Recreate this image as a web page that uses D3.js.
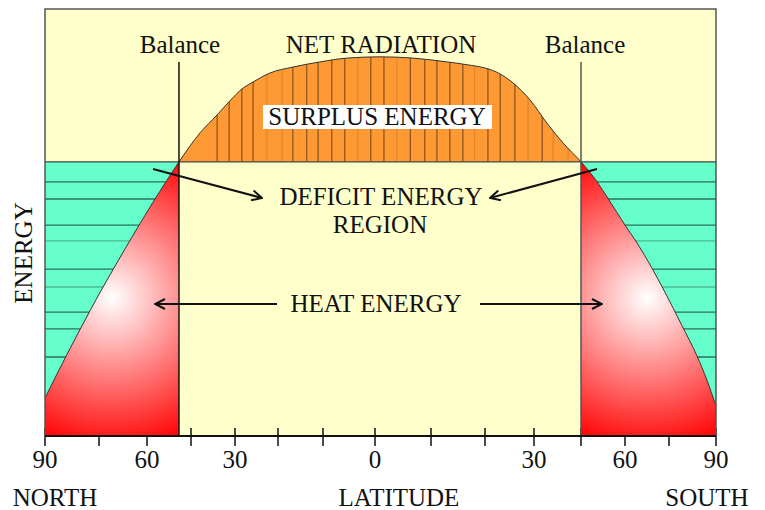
<!DOCTYPE html>
<html>
<head>
<meta charset="utf-8">
<script src="https://cdn.jsdelivr.net/npm/d3@7"></script>
<style>
  body { margin: 0; background: #fff; }
  text { font-family: "Liberation Serif", "DejaVu Serif", serif; fill: #111; }
</style>
</head>
<body>
<svg id="chart" width="765" height="510"></svg>
<script>
// latitude: negative = north, positive = south
var curveLat = [-90, -83.9, -80.3, -74.7, -70.6, -63.1, -58.0, -53.2, -49.1, -41.9, -36.1, -32.4, -28.1,
                -25.8, -21.9, -16.7, -10.7, -5.4, 0.9, 6.8, 13.0, 15.9, 22.4, 25.7, 29.2, 34.1, 39.3,
                45, 50.5, 54.5, 60, 64.1, 69.2, 73.6, 79.1, 83.9, 87.1, 90];
var curveEnergy = [8.9, 19.1, 24.9, 33.6, 39.0, 48.6, 54.7, 59.9, 64.2, 71.0, 75.2, 78.0, 81.5,
                   82.9, 85.0, 86.4, 87.6, 88.5, 88.8, 88.5, 87.6, 87.1, 85.2, 82.7, 78.7, 73.3, 68.6,
                   64.2, 59.5, 55.3, 49.4, 45.2, 39.3, 33.7, 25.9, 18.8, 13.1, 7.0];

var balanceLat = [-49.1, 45];
var balanceEnergy = 64.2;

var latTicks = [-90, -75, -60, -45, -30, -20, -10, 0, 10, 20, 30, 45, 60, 75, 90];
var latLabels = [-90, -60, -30, 0, 30, 60, 90];

// hatching inside the surplus and heat regions
var surplusDark = [-36.1, -32.0, -28.4, -25.8, -16.7, -13.6, -11.1, -8.3, -5.8, -0.8, 1.6,
                   6.3, 8.9, 11.1, 13.5, 15.9, 20.6, 23.1, 26.1, 32.6];
var surplusLight = [-22.6, -19.1, -3.3, 3.9, 18.1, 28.8, 36.1, 40.9];
var deficitDark = [59.5, 55.5, 49.4, 39.1, 29.0, 25.1, 18.5];
var deficitLight = [45.7, 34.9];

var svg = d3.select("#chart"),
    pLeft = 45, pRight = 716, pTop = 9, pBottom = 436;

var x = d3.scaleLinear()
    .domain(latTicks)
    .range([45, 99, 147, 191, 235, 278, 323, 375, 431, 485, 534, 581, 625, 669, 716]);

var y = d3.scaleLinear()
    .domain([0, 100])
    .range([pBottom, pTop]);

var data = curveLat.map(function(d, i) { return {lat: d, e: curveEnergy[i]}; });

var line = d3.line()
    .x(function(d) { return x(d.lat); })
    .y(function(d) { return y(d.e); })
    .curve(d3.curveMonotoneX);

var areaToBalance = d3.area()
    .x(function(d) { return x(d.lat); })
    .y0(y(balanceEnergy))
    .y1(function(d) { return y(d.e); })
    .curve(d3.curveMonotoneX);

var areaToBottom = d3.area()
    .x(function(d) { return x(d.lat); })
    .y0(pBottom)
    .y1(function(d) { return y(d.e); })
    .curve(d3.curveMonotoneX);

var bx0 = x(balanceLat[0]), bx1 = x(balanceLat[1]);

var defs = svg.append("defs");
defs.append("clipPath").attr("id", "mid")
  .append("rect").attr("x", bx0).attr("y", pTop).attr("width", bx1 - bx0).attr("height", pBottom - pTop);
var outer = defs.append("clipPath").attr("id", "outer");
outer.append("rect").attr("x", pLeft).attr("y", pTop).attr("width", bx0 - pLeft).attr("height", pBottom - pTop);
outer.append("rect").attr("x", bx1).attr("y", pTop).attr("width", pRight - bx1).attr("height", pBottom - pTop);
defs.append("clipPath").attr("id", "surplusClip")
  .append("path").datum(data).attr("d", areaToBalance);

[["heatL", x(-70.9)], ["heatR", x(67.5)]].forEach(function(g) {
  var rg = defs.append("radialGradient").attr("id", g[0])
      .attr("gradientUnits", "userSpaceOnUse")
      .attr("cx", g[1]).attr("cy", y(32.3)).attr("r", 155);
  rg.append("stop").attr("offset", "0").attr("stop-color", "#ffffff");
  rg.append("stop").attr("offset", "1").attr("stop-color", "#ff0000");
});

var marker = defs.append("marker").attr("id", "arrow")
    .attr("viewBox", "0 0 12 12").attr("refX", 11).attr("refY", 6)
    .attr("markerWidth", 12).attr("markerHeight", 12)
    .attr("markerUnits", "userSpaceOnUse").attr("orient", "auto");
marker.append("path").attr("d", "M1,1L11,6L1,11")
    .attr("fill", "none").attr("stroke", "#111").attr("stroke-width", 2);

// background
svg.append("rect")
    .attr("x", pLeft).attr("y", pTop).attr("width", pRight - pLeft).attr("height", pBottom - pTop)
    .attr("fill", "#ffffcc");

// ticks (hidden under red where they cross it)
svg.append("g").selectAll("line").data(latTicks).enter().append("line")
    .attr("x1", function(d) { return x(d); }).attr("x2", function(d) { return x(d); })
    .attr("y1", pBottom - 8).attr("y2", pBottom + 10)
    .attr("stroke", "#111").attr("stroke-width", 1.5);

// surplus
svg.append("path").datum(data)
    .attr("d", areaToBalance).attr("clip-path", "url(#mid)")
    .attr("fill", "#ff9933");

var surplusG = svg.append("g").attr("clip-path", "url(#mid)");
[[surplusDark, "#6e4316"], [surplusLight, "#d5832c"]].forEach(function(s) {
  surplusG.append("g").attr("clip-path", "url(#surplusClip)")
    .selectAll("line").data(s[0]).enter().append("line")
      .attr("x1", function(d) { return x(d); }).attr("x2", function(d) { return x(d); })
      .attr("y1", y(balanceEnergy))
      .attr("y2", y(d3.max(curveEnergy)))
      .attr("stroke", s[1]).attr("stroke-width", 1);
});

// deficit (teal) at high latitudes
var tealG = svg.append("g").attr("clip-path", "url(#outer)");
tealG.append("path").datum(data)
    .attr("d", areaToBalance)
    .attr("fill", "#66ffcc");
[[deficitDark, "#2f6e55"], [deficitLight, "#4cbb92"]].forEach(function(s) {
  tealG.selectAll(null).data(s[0]).enter().append("line")
      .attr("x1", pLeft).attr("x2", pRight)
      .attr("y1", function(d) { return y(d); }).attr("y2", function(d) { return y(d); })
      .attr("stroke", s[1]).attr("stroke-width", 1.3);
});

// heat energy (red), drawn over the stripe ends
var heat = svg.append("g").attr("clip-path", "url(#outer)");
heat.append("path").datum(data.filter(function(d) { return d.lat <= balanceLat[0]; }))
    .attr("d", areaToBottom).attr("fill", "url(#heatL)");
heat.append("path").datum(data.filter(function(d) { return d.lat >= balanceLat[1]; }))
    .attr("d", areaToBottom).attr("fill", "url(#heatR)");

// balance level line
svg.append("line")
    .attr("x1", pLeft).attr("x2", pRight)
    .attr("y1", y(balanceEnergy)).attr("y2", y(balanceEnergy))
    .attr("stroke", "#444").attr("stroke-width", 1.3);

// net radiation curve
svg.append("path").datum(data)
    .attr("d", line).attr("fill", "none")
    .attr("stroke", "#333").attr("stroke-width", 1);

// frame
svg.append("rect")
    .attr("x", pLeft).attr("y", pTop).attr("width", pRight - pLeft).attr("height", pBottom - pTop)
    .attr("fill", "none").attr("stroke", "#555").attr("stroke-width", 1.5);

// balance verticals
svg.selectAll(".bal").data(balanceLat).enter().append("line")
    .attr("x1", function(d) { return x(d); }).attr("x2", function(d) { return x(d); })
    .attr("y1", 62).attr("y2", pBottom)
    .attr("stroke", function(d, i) { return i ? "#555" : "#111"; })
    .attr("stroke-width", 1.5);

svg.selectAll(".balText").data(balanceLat).enter().append("text")
    .attr("x", function(d, i) { return x(d) + (i ? 4 : 1); }).attr("y", 53)
    .attr("text-anchor", "middle").attr("font-size", 25)
    .text("Balance");

// x axis
svg.append("line")
    .attr("x1", pLeft).attr("x2", pRight).attr("y1", pBottom).attr("y2", pBottom)
    .attr("stroke", "#111").attr("stroke-width", 2);

svg.append("g").selectAll("text").data(latLabels).enter().append("text")
    .attr("x", function(d) { return x(d); }).attr("y", 468)
    .attr("text-anchor", "middle").attr("font-size", 25)
    .text(function(d) { return Math.abs(d); });

// surplus label
svg.append("rect").attr("x", 263).attr("y", 105).attr("width", 229).attr("height", 24).attr("fill", "#fff");
function label(t, cx, cy, size) {
  return svg.append("text").attr("x", cx).attr("y", cy)
      .attr("text-anchor", "middle").attr("font-size", size || 25).text(t);
}
label("SURPLUS ENERGY", 377, 125);
label("NET RADIATION", 381, 53);
label("DEFICIT ENERGY", 381, 205);
label("REGION", 380, 233);
label("HEAT ENERGY", 376, 312);
label("NORTH", 55, 506);
label("LATITUDE", 399, 506);
label("SOUTH", 707, 506);
svg.append("text")
    .attr("transform", "translate(32,253) rotate(-90)")
    .attr("text-anchor", "middle").attr("font-size", 25)
    .text("ENERGY");

// arrows
var arrows = [[153, 169, 262, 198], [597, 169, 490, 198], [277, 304, 155, 304], [480, 304, 602, 304]];
svg.selectAll(".arrow").data(arrows).enter().append("line")
    .attr("x1", function(d) { return d[0]; }).attr("y1", function(d) { return d[1]; })
    .attr("x2", function(d) { return d[2]; }).attr("y2", function(d) { return d[3]; })
    .attr("stroke", "#111").attr("stroke-width", 2)
    .attr("marker-end", "url(#arrow)");
</script>
</body>
</html>
